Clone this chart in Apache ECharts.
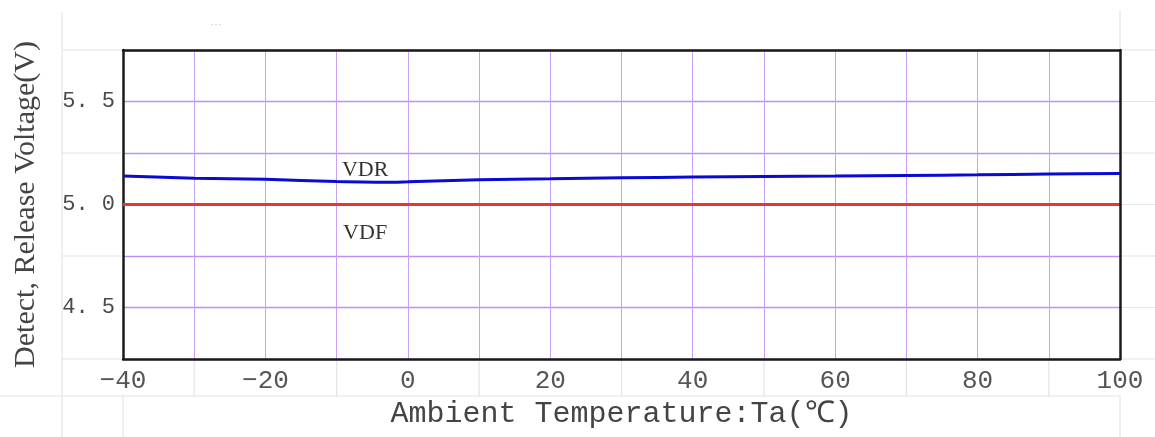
<!DOCTYPE html>
<html>
<head>
<meta charset="utf-8">
<script src="https://cdn.jsdelivr.net/npm/echarts@6/dist/echarts.min.js"></script>
<style>
    html, body { margin: 0; padding: 0; background: #fff; }
    #chart { width: 1155px; height: 437px; }
</style>
</head>
<body>
<div id="chart"></div>
<script>
// temperature points (℃)
const temps = [-40, -30, -20, -10, -2, 0, 10, 20, 30, 40, 50, 60, 70, 80, 90, 100];
// release voltage VDR (V)
const vdr = [5.138, 5.128, 5.122, 5.112, 5.108, 5.110, 5.120, 5.125, 5.130, 5.133, 5.136, 5.138, 5.141, 5.144, 5.148, 5.150];
// detect voltage VDF (V)
const vdfTemps = [-40, 100];
const vdf = [5.0, 5.0];

// tick labels
const xTicks = [-40, -20, 0, 20, 40, 60, 80, 100];
const xTickLabels = ['\u221240', '\u221220', '0', '20', '40', '60', '80', '100'];
const yTicks = [4.5, 5.0, 5.5];
const yTickLabels = ['4. 5', '5. 0', '5. 5'];

// text labels placed next to the lines
const seriesNames = ['VDR', 'VDF'];
const nameAt = [[-6, 5.163], [-6, 4.856]];

const chart = echarts.init(document.getElementById('chart'));

const pick = (ticks, labels, v) => {
    const i = ticks.findIndex(t => Math.abs(t - v) < 1e-6);
    return i < 0 ? '' : labels[i];
};

const nameMark = (i) => ({
    symbolSize: 1,
    itemStyle: { color: 'transparent' },
    label: {
        show: true,
        position: 'inside',
        formatter: seriesNames[i],
        color: '#333',
        fontFamily: 'Liberation Serif',
        fontSize: 22
    },
    data: [{ coord: nameAt[i] }]
});

const frame = () => ({ show: true, onZero: false, lineStyle: { color: '#1a1a1a', width: 2.5 } });

const options = {
    animation: false,
    title: {
        text: '\u00b7\u00b7\u00b7',
        left: 205,
        top: 14,
        textStyle: { color: '#c8c8c8', fontSize: 12, fontWeight: 'normal' }
    },
    grid: {
        left: 123,
        right: 35,
        top: 50,
        bottom: 78
    },
    xAxis: [{
        type: 'value',
        min: -40,
        max: 100,
        interval: 10,
        name: 'Ambient Temperature:Ta(\u2103)',
        nameLocation: 'middle',
        nameGap: 37,
        nameTextStyle: {
            color: '#444',
            fontFamily: 'Liberation Mono',
            fontSize: 30
        },
        axisLine: frame(),
        axisTick: { show: false },
        axisLabel: {
            margin: 9,
            color: '#555',
            fontFamily: 'Liberation Mono',
            fontSize: 26,
            formatter: v => pick(xTicks, xTickLabels, v)
        },
        splitLine: { show: true, lineStyle: { color: '#c9a2f7', width: 1 } }
    }, {
        type: 'value',
        position: 'top',
        min: -40,
        max: 100,
        interval: 10,
        z: 5,
        axisLine: frame(),
        axisTick: { show: false },
        axisLabel: { show: false },
        splitLine: { show: false }
    }],
    yAxis: [{
        type: 'value',
        min: 4.25,
        max: 5.75,
        interval: 0.25,
        name: 'Detect, Release Voltage(V)',
        nameLocation: 'middle',
        nameGap: 82,
        nameRotate: 90,
        nameTextStyle: {
            color: '#444',
            fontFamily: 'Liberation Serif',
            fontSize: 30
        },
        axisLine: frame(),
        axisTick: { show: false },
        axisLabel: {
            margin: 8,
            color: '#4a4a4a',
            fontFamily: 'Liberation Mono',
            fontSize: 22,
            formatter: v => pick(yTicks, yTickLabels, v)
        },
        splitLine: { show: true, lineStyle: { color: '#bf8ff5', width: 1.3 } }
    }, {
        type: 'value',
        position: 'right',
        min: 4.25,
        max: 5.75,
        interval: 0.25,
        z: 5,
        axisLine: frame(),
        axisTick: { show: false },
        axisLabel: { show: false },
        splitLine: { show: false }
    }],
    series: [
        {
            name: 'VDR',
            type: 'line',
            data: temps.map((t, i) => [t, vdr[i]]),
            showSymbol: false,
            smooth: 0.3,
            lineStyle: { color: '#0a0ad2', width: 3 },
            markPoint: nameMark(0)
        },
        {
            name: 'VDF',
            type: 'line',
            data: vdfTemps.map((t, i) => [t, vdf[i]]),
            showSymbol: false,
            lineStyle: { color: '#ee3333', width: 3 },
            markPoint: nameMark(1)
        }
    ]
};
chart.setOption(options);

// faint sheet lines around the plot area, placed from the axes' own scale
const px = v => chart.convertToPixel({ gridIndex: 0 }, v);
const W = 1155, H = 437;
const sheet = { stroke: '#e4e4e4', lineWidth: 1.2 };
const lines = [];
const bottomRow = 396;
const leftCol = 62;
[4.25, 4.75, 5.25, 5.75].forEach(y => {
    const p = px([-40, y]);
    lines.push({ x1: leftCol, y1: p[1], x2: p[0] - 2, y2: p[1] });
});
[4.25, 4.5, 4.75, 5.0, 5.25, 5.5, 5.75].forEach(y => {
    const p = px([100, y]);
    lines.push({ x1: p[0] + 2, y1: p[1], x2: W, y2: p[1] });
});
[-30, -10, 10, 30, 50, 70, 90].forEach(x => {
    const p = px([x, 4.25]);
    lines.push({ x1: p[0], y1: p[1] + 2, x2: p[0], y2: bottomRow });
});
const bl = px([-40, 4.25]);
const tr = px([100, 5.75]);
lines.push({ x1: 0, y1: bottomRow, x2: tr[0], y2: bottomRow });
lines.push({ x1: leftCol, y1: 12, x2: leftCol, y2: H });
lines.push({ x1: bl[0], y1: bottomRow, x2: bl[0], y2: H });
lines.push({ x1: tr[0], y1: bottomRow, x2: tr[0], y2: H });
lines.push({ x1: tr[0], y1: 10, x2: tr[0], y2: tr[1] - 2 });

chart.setOption({
    graphic: lines.map(s => ({
        type: 'line',
        z: -1,
        silent: true,
        shape: s,
        style: sheet
    }))
});
</script>
</body>
</html>
